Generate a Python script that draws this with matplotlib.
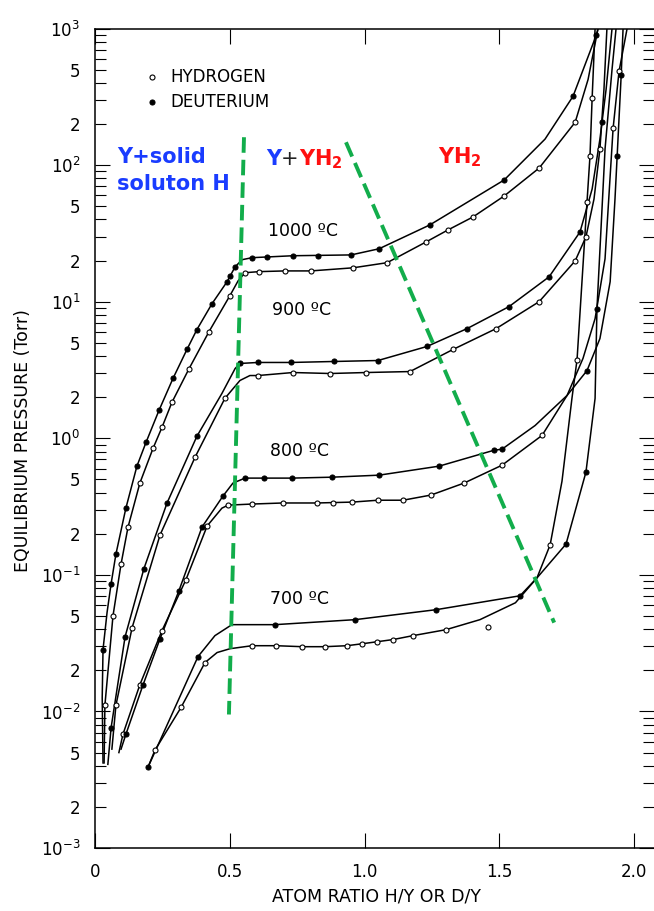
import numpy as np
import matplotlib
matplotlib.use("Agg")
import matplotlib.pyplot as plt
from matplotlib import transforms
from matplotlib.ticker import LogLocator, FuncFormatter, FixedLocator

# ---- isotherms: x = atom ratio, p = pressure (Torr) ----
# line traces (l) and measured points (m); H = hydrogen (open), D = deuterium (filled)
D1000_lx = [0.028, 0.025, 0.028, 0.043, 0.058, 0.076, 0.113, 0.154, 0.188, 0.236, 0.288, 0.340, 0.377,
            0.433, 0.489, 0.519, 0.545, 0.582, 0.734, 0.950, 1.054, 1.243, 1.519, 1.671, 1.775, 1.861, 1.868]
D1000_lp = [0.0042, 0.0126, 0.0284, 0.053, 0.086, 0.142, 0.308, 0.625, 0.935, 1.60, 2.74, 4.47, 6.25,
            9.66, 14.0, 18.0, 20.3, 21.0, 21.7, 22.0, 24.4, 36.5, 77.8, 155, 319, 889, 1000]
D1000_mx = [0.028, 0.058, 0.076, 0.113, 0.154, 0.188, 0.236, 0.288, 0.340, 0.377, 0.433, 0.489, 0.500,
            0.519, 0.582, 0.638, 0.734, 0.827, 0.950, 1.054, 1.243, 1.519, 1.775, 1.861]
D1000_mp = [0.0284, 0.086, 0.142, 0.308, 0.625, 0.935, 1.60, 2.74, 4.47, 6.25, 9.66, 14.0, 15.5,
            18.0, 21.0, 21.4, 21.7, 21.7, 22.0, 24.4, 36.5, 77.8, 319, 889]

H1000_lx = [0.032, 0.035, 0.065, 0.095, 0.121, 0.165, 0.214, 0.247, 0.284, 0.348, 0.422, 0.500, 0.530,
            0.556, 0.608, 0.704, 0.801, 0.957, 1.084, 1.229, 1.310, 1.403, 1.519, 1.649, 1.783, 1.831, 1.868]
H1000_lp = [0.0042, 0.0111, 0.050, 0.120, 0.224, 0.470, 0.845, 1.20, 1.83, 3.24, 6.04, 11.1, 14.2,
            16.3, 16.6, 16.8, 16.8, 17.7, 19.3, 27.4, 33.5, 41.7, 59.4, 95.1, 206, 424, 1000]
H1000_mx = [0.035, 0.065, 0.095, 0.121, 0.165, 0.214, 0.247, 0.284, 0.348, 0.422, 0.500, 0.556,
            0.608, 0.704, 0.801, 0.957, 1.084, 1.229, 1.310, 1.403, 1.519, 1.649, 1.783]
H1000_mp = [0.0111, 0.050, 0.120, 0.224, 0.470, 0.845, 1.20, 1.83, 3.24, 6.04, 11.1, 16.3,
            16.6, 16.8, 16.8, 17.7, 19.3, 27.4, 33.5, 41.7, 59.4, 95.1, 206]

D900_lx = [0.046, 0.058, 0.110, 0.180, 0.266, 0.377, 0.470, 0.519, 0.537, 0.604, 0.727, 0.887, 1.050,
           1.232, 1.381, 1.537, 1.686, 1.801, 1.846, 1.875, 1.898, 1.920]
D900_lp = [0.0041, 0.0076, 0.0352, 0.111, 0.336, 1.035, 2.13, 3.24, 3.53, 3.59, 3.59, 3.65, 3.71,
           4.70, 6.35, 9.20, 15.2, 32.4, 66.8, 155, 359, 1000]
D900_mx = [0.058, 0.110, 0.180, 0.266, 0.377, 0.537, 0.604, 0.727, 0.887, 1.050, 1.232, 1.381,
           1.537, 1.686, 1.801, 1.883]
D900_mp = [0.0076, 0.0352, 0.111, 0.336, 1.035, 3.53, 3.59, 3.59, 3.65, 3.71, 4.70, 6.35,
           9.20, 15.2, 32.4, 208]

H900_lx = [0.061, 0.076, 0.136, 0.240, 0.370, 0.481, 0.537, 0.574, 0.604, 0.734, 0.872, 1.006, 1.169,
           1.329, 1.489, 1.649, 1.783, 1.823, 1.853, 1.875, 1.890, 1.901]
H900_lp = [0.0053, 0.0111, 0.041, 0.196, 0.726, 1.96, 2.65, 2.88, 2.88, 3.03, 2.98, 3.03, 3.08,
           4.47, 6.35, 10.0, 19.9, 29.8, 56.5, 131, 359, 1000]
H900_mx = [0.076, 0.136, 0.240, 0.370, 0.481, 0.604, 0.734, 0.872, 1.006, 1.169, 1.329, 1.489,
           1.649, 1.783, 1.823, 1.875]
H900_mp = [0.0111, 0.041, 0.196, 0.726, 1.96, 2.88, 3.03, 2.98, 3.03, 3.08, 4.47, 6.35,
           10.0, 19.9, 29.8, 131]

D800_lx = [0.095, 0.113, 0.177, 0.240, 0.310, 0.396, 0.474, 0.511, 0.556, 0.626, 0.730, 0.879, 1.054,
           1.277, 1.481, 1.511, 1.634, 1.753, 1.827, 1.875, 1.913, 1.931, 1.939, 1.954, 1.961]
D800_lp = [0.0053, 0.0068, 0.0157, 0.0341, 0.0764, 0.224, 0.378, 0.470, 0.511, 0.511, 0.511, 0.519, 0.537,
           0.625, 0.817, 0.832, 1.24, 2.06, 3.13, 5.37, 14.0, 56.5, 116, 454, 1000]
D800_mx = [0.113, 0.177, 0.240, 0.310, 0.396, 0.474, 0.556, 0.626, 0.730, 0.879, 1.054, 1.277,
           1.481, 1.511, 1.827, 1.939, 1.954]
D800_mp = [0.0068, 0.0157, 0.0341, 0.0764, 0.224, 0.378, 0.511, 0.511, 0.511, 0.519, 0.537, 0.625,
           0.817, 0.832, 3.13, 116, 454]

H800_lx = [0.087, 0.102, 0.165, 0.247, 0.336, 0.415, 0.470, 0.493, 0.582, 0.697, 0.823, 0.954, 1.050,
           1.143, 1.247, 1.370, 1.511, 1.660, 1.753, 1.812, 1.857, 1.894, 1.924, 1.946, 1.976]
H800_lp = [0.0050, 0.0068, 0.0157, 0.039, 0.092, 0.228, 0.308, 0.324, 0.330, 0.336, 0.336, 0.341, 0.352,
           0.352, 0.384, 0.470, 0.635, 1.05, 2.06, 3.84, 7.52, 20.6, 186, 485, 1000]
H800_mx = [0.102, 0.165, 0.247, 0.336, 0.415, 0.493, 0.582, 0.697, 0.823, 0.883, 0.954, 1.050,
           1.143, 1.247, 1.370, 1.511, 1.660, 1.924, 1.946]
H800_mp = [0.0068, 0.0157, 0.039, 0.092, 0.228, 0.324, 0.330, 0.336, 0.336, 0.336, 0.341, 0.352,
           0.352, 0.384, 0.470, 0.635, 1.05, 186, 485]

D700_lx = [0.195, 0.381, 0.444, 0.507, 0.667, 0.965, 1.266, 1.578, 1.641, 1.749, 1.823, 1.857, 1.864,
           1.894, 1.920, 1.935]
D700_lp = [0.0039, 0.0252, 0.0359, 0.0432, 0.0432, 0.047, 0.0556, 0.0703, 0.095, 0.168, 0.565, 1.96, 8.89,
           131, 502, 1000]
D700_mx = [0.195, 0.381, 0.667, 0.965, 1.266, 1.578, 1.749, 1.823, 1.864]
D700_mp = [0.0039, 0.0252, 0.0432, 0.047, 0.0556, 0.0703, 0.168, 0.565, 8.89]

H700_lx = [0.195, 0.221, 0.318, 0.407, 0.452, 0.500, 0.582, 0.671, 0.768, 0.853, 0.935, 0.991, 1.047,
           1.106, 1.180, 1.303, 1.429, 1.561, 1.641, 1.690, 1.734, 1.771, 1.790, 1.812, 1.827, 1.838,
           1.846, 1.857]
H700_lp = [0.0039, 0.0052, 0.0107, 0.0228, 0.0270, 0.0288, 0.0303, 0.0303, 0.0298, 0.0298, 0.0303, 0.0313,
           0.0324, 0.0336, 0.0359, 0.0397, 0.047, 0.0625, 0.095, 0.166, 0.485, 1.96, 3.77, 18.3, 53.7, 116,
           308, 1000]
H700_mx = [0.221, 0.318, 0.407, 0.582, 0.671, 0.768, 0.853, 0.935, 0.991, 1.047, 1.106, 1.180,
           1.303, 1.459, 1.690, 1.790, 1.827, 1.838, 1.846]
H700_mp = [0.0052, 0.0107, 0.0228, 0.0303, 0.0303, 0.0298, 0.0298, 0.0303, 0.0313, 0.0324, 0.0336, 0.0359,
           0.0397, 0.0417, 0.166, 3.77, 53.7, 116, 308]

# phase boundaries (green dashed)
bound1_x = [0.552, 0.496]
bound1_p = [160, 0.0095]
bound2_x = [0.931, 1.705]
bound2_p = [147, 0.0447]

temps = ["1000 \u00baC", "900 \u00baC", "800 \u00baC", "700 \u00baC"]
temp_x = [0.641, 0.656, 0.649, 0.649]
temp_p = [33.0, 8.74, 0.804, 0.0668]

xticks = [0, 0.5, 1.0, 1.5, 2.0]
xticklabels = ["0", "0.5", "1.0", "1.5", "2.0"]

YMIN, YMAX = 1e-3, 1e3

BLUE = "#1a3cff"
RED = "#ff1010"
GREEN = "#12ad4b"


def rainbow_text(ax, x, y, parts, **kw):
    # draw coloured pieces one after the other
    t = ax.transData
    canvas = ax.figure.canvas
    for s, c, w in parts:
        txt = ax.text(x, y, s, color=c, transform=t, fontweight=w, **kw)
        txt.draw(canvas.get_renderer())
        ex = txt.get_window_extent()
        t = transforms.offset_copy(txt.get_transform(), x=ex.width, units="dots")


def minor_fmt(v, pos):
    if v < YMIN * 0.999 or v > YMAX * 1.001:
        return ""
    e = np.floor(np.log10(v) + 1e-9)
    m = int(round(v / 10 ** e))
    return str(m) if m in (2, 5) else ""


def major_fmt(v, pos):
    if v < YMIN * 0.999 or v > YMAX * 1.001:
        return ""
    return r"$10^{%d}$" % int(round(np.log10(v)))


def main():
    fig = plt.figure(figsize=(6.54, 9.11), dpi=100)
    ax = fig.add_axes([0.146, 0.0691, 0.854, 0.8996])

    series = [
        (H1000_lx, H1000_lp, H1000_mx, H1000_mp, "white"),
        (D1000_lx, D1000_lp, D1000_mx, D1000_mp, "black"),
        (H900_lx, H900_lp, H900_mx, H900_mp, "white"),
        (D900_lx, D900_lp, D900_mx, D900_mp, "black"),
        (H800_lx, H800_lp, H800_mx, H800_mp, "white"),
        (D800_lx, D800_lp, D800_mx, D800_mp, "black"),
        (H700_lx, H700_lp, H700_mx, H700_mp, "white"),
        (D700_lx, D700_lp, D700_mx, D700_mp, "black"),
    ]
    for lx, lp, mx, mp, fc in series:
        ax.plot(lx, lp, "-", color="black", lw=1.1, zorder=2)
        ax.plot(mx, mp, "o", ms=3.6, mfc=fc, mec="black", mew=0.8, zorder=3)

    ax.set_yscale("log")
    ax.set_xlim(0, 2.076)
    ax.set_ylim(YMIN, YMAX)

    ax.yaxis.set_major_locator(LogLocator(base=10, numticks=20))
    ax.yaxis.set_minor_locator(LogLocator(base=10, subs=np.arange(2, 10), numticks=20))
    ax.yaxis.set_major_formatter(FuncFormatter(major_fmt))
    ax.yaxis.set_minor_formatter(FuncFormatter(minor_fmt))
    ax.xaxis.set_major_locator(FixedLocator(xticks))
    ax.set_xticklabels(xticklabels)

    ax.tick_params(which="both", direction="in", top=True, right=True, labelsize=12, width=0.8)
    ax.tick_params(which="major", length=11)
    ax.tick_params(which="minor", length=8)
    ax.tick_params(axis="y", which="both", pad=11)
    ax.tick_params(axis="x", pad=11)
    ax.spines["right"].set_visible(False)
    for s in ("left", "bottom", "top"):
        ax.spines[s].set_linewidth(1.1)

    ax.set_xlabel("ATOM RATIO H/Y OR D/Y", fontsize=12.5)
    ax.set_ylabel("EQUILIBRIUM PRESSURE (Torr)", fontsize=12.5)
    ax.xaxis.set_label_coords(0.504, -0.048)
    ax.yaxis.set_label_coords(-0.114, 0.497)

    # green phase boundaries
    ax.plot(bound1_x, bound1_p, color=GREEN, lw=2.8, ls=(0, (4, 1.8)), zorder=4)
    ax.plot(bound2_x, bound2_p, color=GREEN, lw=2.8, ls=(0, (4, 1.8)), zorder=4)

    # legend
    ax.plot([0.210], [439], "o", ms=3.6, mfc="white", mec="black", mew=0.8)
    ax.plot([0.210], [288], "o", ms=3.6, mfc="black", mec="black", mew=0.8)
    ax.text(0.277, 439, "HYDROGEN", fontsize=12, va="center")
    ax.text(0.277, 288, "DEUTERIUM", fontsize=12, va="center")

    for t, x, p in zip(temps, temp_x, temp_p):
        ax.text(x, p, t, fontsize=12.5, va="center")

    # phase labels
    ax.text(0.080, 114, "Y+solid", color=BLUE, fontsize=15, fontweight="bold", va="center")
    ax.text(0.080, 72.7, "soluton H", color=BLUE, fontsize=15, fontweight="bold", va="center")
    rainbow_text(ax, 0.634, 111,
                 [("Y", BLUE, "bold"), ("+", "#222222", "normal"), (r"$\mathbf{YH_2}$", RED, "bold")],
                 fontsize=15, va="center")
    ax.text(1.273, 114, r"$\mathbf{YH_2}$", color=RED, fontsize=15, va="center")

    fig.savefig("out.png", dpi=100)


if __name__ == "__main__":
    main()
